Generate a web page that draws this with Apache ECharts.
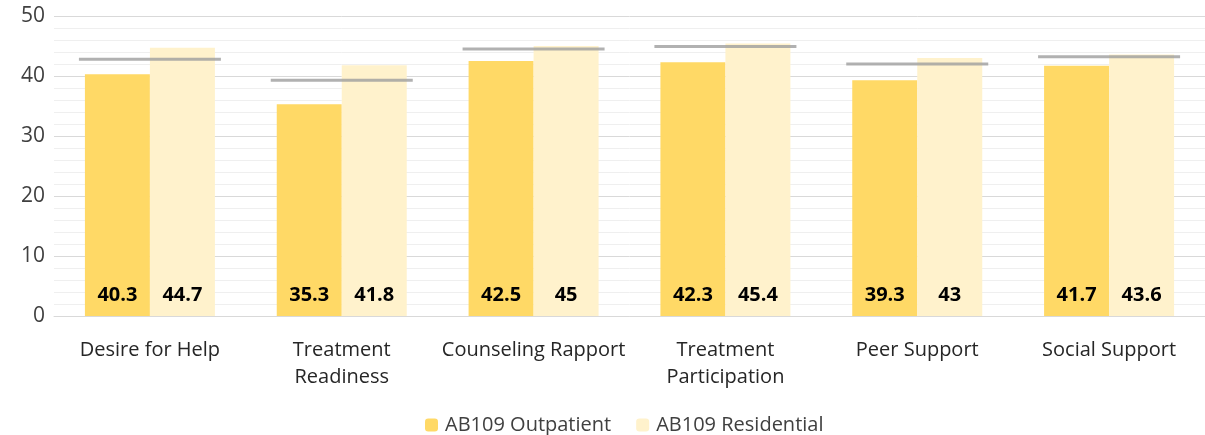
<!DOCTYPE html>
<html><head><meta charset="utf-8">
<script src="https://cdn.jsdelivr.net/npm/echarts@6/dist/echarts.min.js"></script>
<style>html,body{margin:0;padding:0;background:#fff}#c{width:1205px;height:435px}</style>
</head><body><div id="c"></div>
<script>
const categories = ['Desire for Help', 'Treatment\nReadiness', 'Counseling Rapport', 'Treatment\nParticipation', 'Peer Support', 'Social Support'];
const outpatient = [40.3, 35.3, 42.5, 42.3, 39.3, 41.7];
const residential = [44.7, 41.8, 45, 45.4, 43, 43.6];
const norm = [42.8, 39.3, 44.5, 44.9, 42.0, 43.2];
const yTicks = [0, 10, 20, 30, 40, 50];

const font = '"Open Sans", sans-serif';
const chart = echarts.init(document.getElementById('c'));
chart.setOption({
  animation: false,
  textStyle: { fontFamily: font },
  grid: { left: 54, top: 16, width: 1161, height: 300 },
  legend: {
    bottom: -5, left: 420, itemWidth: 13, itemHeight: 13, itemGap: 25,
    data: ['AB109 Outpatient', 'AB109 Residential'],
    textStyle: { fontSize: 20, color: '#404040', fontFamily: font, padding: [0, 0, 0, 2] }
  },
  xAxis: {
    type: 'category', data: categories,
    axisLine: { lineStyle: { color: '#d9d9d9' } },
    axisTick: { show: false },
    axisLabel: { fontSize: 20, color: '#262626', lineHeight: 27, margin: 21, interval: 0 }
  },
  yAxis: {
    type: 'value', min: yTicks[0], max: yTicks[yTicks.length - 1], interval: 10,
    axisLine: { show: false }, axisTick: { show: false },
    axisLabel: { fontSize: 21, color: '#404040', margin: 9 },
    splitLine: { lineStyle: { color: '#d9d9d9' } },
    minorTick: { show: false, splitNumber: 5 },
    minorSplitLine: { show: true, lineStyle: { color: '#efefef' } }
  },
  series: [
    {
      name: 'AB109 Outpatient', type: 'bar', data: outpatient, barWidth: 65, barGap: '0%',
      itemStyle: { color: '#FFD966' },
      label: { show: true, position: 'insideBottom', distance: 11, fontSize: 20, fontWeight: 'bold', color: '#000' }
    },
    {
      name: 'AB109 Residential', type: 'bar', data: residential, barWidth: 65,
      itemStyle: { color: '#FFF2CC' },
      label: { show: true, position: 'insideBottom', distance: 11, fontSize: 20, fontWeight: 'bold', color: '#000' }
    },
    {
      name: 'Norm', type: 'scatter', data: norm, symbol: 'rect', symbolSize: [142, 3],
      itemStyle: { color: '#9e9e9e' }, z: 5, silent: true
    }
  ]
});
</script></body></html>
